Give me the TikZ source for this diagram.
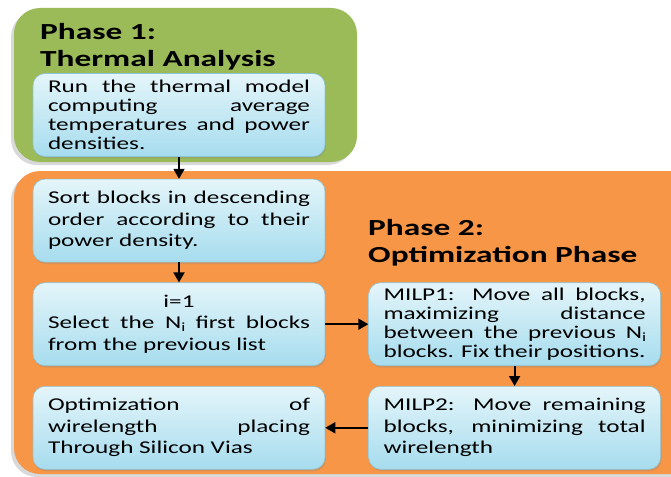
\documentclass[tikz,border=0pt]{standalone}
\usepackage{fontspec}
\setmainfont{Carlito}[FakeStretch=1.4, BoldFeatures={FakeStretch=1.45}]
\usepackage{tikz}
\usetikzlibrary{positioning, shadows, arrows.meta}

\definecolor{phaseone}{HTML}{9BBB59}
\definecolor{phasetwo}{HTML}{F79646}
\definecolor{boxtop}{HTML}{E4F5FA}
\definecolor{boxbottom}{HTML}{A6DCEE}
\definecolor{boxline}{HTML}{8CC3D6}

\newcommand{\blockfont}{\fontsize{18}{21.5}\selectfont\hyphenpenalty=10000\exhyphenpenalty=10000\tolerance=10000}
\newcommand{\tightfont}{\fontsize{18}{19}\selectfont\hyphenpenalty=10000\exhyphenpenalty=10000\tolerance=10000}

\tikzset{
	phase/.style={rounded corners=26pt, drop shadow={shadow xshift=-3pt, shadow yshift=-3pt, opacity=.3}},
	block/.style={rectangle, rounded corners=12pt, draw=boxline, line width=.6pt,
		top color=boxtop, bottom color=boxbottom, text width=262pt, inner xsep=15pt,
		minimum height=83pt, align=justify, font=\blockfont,
		drop shadow={shadow xshift=1pt, shadow yshift=-2pt, opacity=.25}},
	tight/.style={font=\tightfont},
	title/.style={align=left, font=\fontsize{23}{27}\selectfont\bfseries, inner sep=0pt},
	flow/.style={-{Triangle[length=10pt, width=11pt]}, line width=1.8pt}
}

\begin{document}
\begin{tikzpicture}[x=1pt, y=1pt, node distance=20pt]
	\useasboundingbox (0,0) rectangle (671,-476);
	% phase backgrounds
	\fill[phaseone, phase] (14,-8) rectangle (357,-162);
	\fill[phasetwo, phase] (14,-171) rectangle (700,-474);

	\node[title, anchor=north west] (t1) at (40,-23) {Phase 1:\\Thermal Analysis};
	\node[title, anchor=north west] (t2) at (368,-219) {Phase 2:\\Optimization Phase};

	\node[block, tight] (run) at (179,-115) {Run the thermal model\linebreak computing average\linebreak temperatures and power\linebreak densities.};
	\node[block] (sort) [below=22pt of run] {Sort blocks in descending\linebreak order according to their\linebreak power density.};
	\node[block] (select) [below=of sort] {\hbox to\linewidth{\hfil i=1\hfil} Select the N$_\mathrm{i}$ first blocks\linebreak from the previous list};
	\node[block, tight] (milp1) [right=43pt of select] {MILP1: Move all blocks,\linebreak maximizing distance\linebreak between the previous N$_\mathrm{i}$\linebreak blocks. Fix their positions.};
	\node[block] (milp2) [below=of milp1] {MILP2: Move remaining\linebreak blocks, minimizing total\linebreak wirelength};
	\node[block] (tsv) [left=43pt of milp2] {Optimization of\linebreak wirelength placing\linebreak Through Silicon Vias};

	\path[flow]
		(run) edge (sort)
		(sort) edge (select)
		(select) edge (milp1)
		(milp1) edge (milp2)
		(milp2) edge (tsv);
\end{tikzpicture}
\end{document}
